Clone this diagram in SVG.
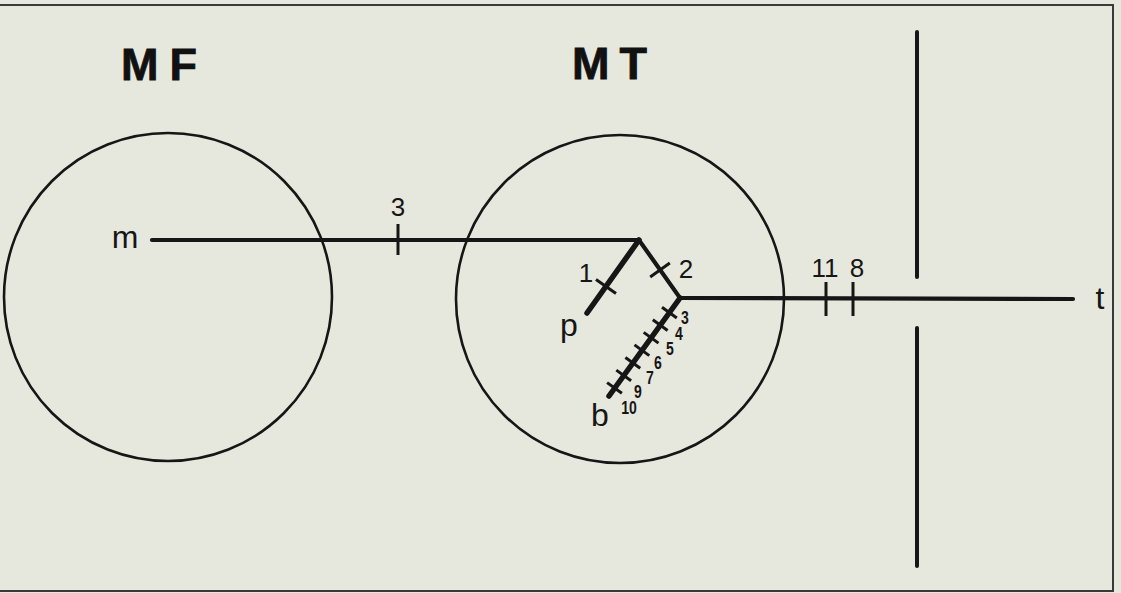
<svg xmlns="http://www.w3.org/2000/svg" width="1121" height="593" viewBox="0 0 1121 593">
<style>
.ln{stroke:#161616;fill:none;stroke-linecap:round;stroke-linejoin:miter}
.circ{stroke:#161616;fill:none;stroke-width:2.6}
.tk{stroke:#161616;stroke-width:3;fill:none}
.big{font-family:"Liberation Sans",Arial,sans-serif;font-weight:bold;font-size:45px;fill:#111;stroke:#111;stroke-width:0.8}
.lab{font-family:"Liberation Sans",Arial,sans-serif;font-size:26px;fill:#161616;text-anchor:middle}
.let{font-family:"Liberation Sans",Arial,sans-serif;font-size:32px;fill:#161616;text-anchor:middle}
.sm{font-family:"Liberation Sans",Arial,sans-serif;font-weight:bold;font-size:18px;fill:#161616;text-anchor:middle}
</style>
<rect x="0" y="0" width="1121" height="593" fill="#e7e8dd"/>
<path d="M-2 5 H1113 V591 H-2" fill="none" stroke="#3a3a3a" stroke-width="2"/>
<g id="MF">
<circle class="circ" cx="168" cy="297" r="164"/>
<text class="big" x="121" y="80" letter-spacing="11">MF</text>
</g>
<g id="MT">
<circle class="circ" cx="620" cy="299" r="164"/>
<text class="big" x="572" y="79" letter-spacing="10">MT</text>
</g>
<g id="barrier">
<line class="ln" x1="917" y1="32" x2="917" y2="277" stroke-width="4"/>
<line class="ln" x1="917" y1="328" x2="917" y2="566" stroke-width="4"/>
</g>
<g id="connectors">
<polyline class="ln" points="152,240 639,240 680,298 1073,299" stroke-width="4.2"/>
<line class="ln" x1="639" y1="240" x2="587" y2="313" stroke-width="5.5"/>
<line class="ln" x1="680" y1="298" x2="609" y2="396" stroke-width="5.5"/>
<line class="tk" x1="398" y1="224" x2="398" y2="255"/>
<line class="tk" x1="826" y1="282" x2="826" y2="316"/>
<line class="tk" x1="853" y1="282" x2="853" y2="316"/>
<line class="tk" x1="650.2" y1="277" x2="669.8" y2="263"/>
<line class="tk" x1="596" y1="279.5" x2="616" y2="293.5"/>
<line class="tk" x1="662" y1="307.3" x2="676.8" y2="318"/>
<line class="tk" x1="652.8" y1="319.8" x2="667.6" y2="330.5"/>
<line class="tk" x1="643.7" y1="332.4" x2="658.5" y2="343.1"/>
<line class="tk" x1="634.5" y1="344.9" x2="649.3" y2="355.6"/>
<line class="tk" x1="625.4" y1="357.5" x2="640.2" y2="368.2"/>
<line class="tk" x1="616.3" y1="370.1" x2="631.1" y2="380.8"/>
<line class="tk" x1="607.1" y1="382.6" x2="621.9" y2="393.3"/>
</g>
<g id="labels">
<text class="let" x="125" y="248">m</text>
<text class="let" x="569" y="336">p</text>
<text class="let" x="600" y="426">b</text>
<text class="let" x="1100" y="309">t</text>
<text class="lab" x="398" y="216">3</text>
<text class="lab" x="586" y="282">1</text>
<text class="lab" x="686" y="278">2</text>
<text class="lab" x="825" y="277">11</text>
<text class="lab" x="857" y="277">8</text>
<g transform="translate(685,324) scale(0.78,1)"><text class="sm" x="0" y="0">3</text></g>
<g transform="translate(679,340) scale(0.78,1)"><text class="sm" x="0" y="0">4</text></g>
<g transform="translate(670,355) scale(0.78,1)"><text class="sm" x="0" y="0">5</text></g>
<g transform="translate(658,369) scale(0.78,1)"><text class="sm" x="0" y="0">6</text></g>
<g transform="translate(650,384) scale(0.78,1)"><text class="sm" x="0" y="0">7</text></g>
<g transform="translate(638,398) scale(0.78,1)"><text class="sm" x="0" y="0">9</text></g>
<g transform="translate(629,414) scale(0.78,1)"><text class="sm" x="0" y="0">10</text></g>
</g>
</svg>
